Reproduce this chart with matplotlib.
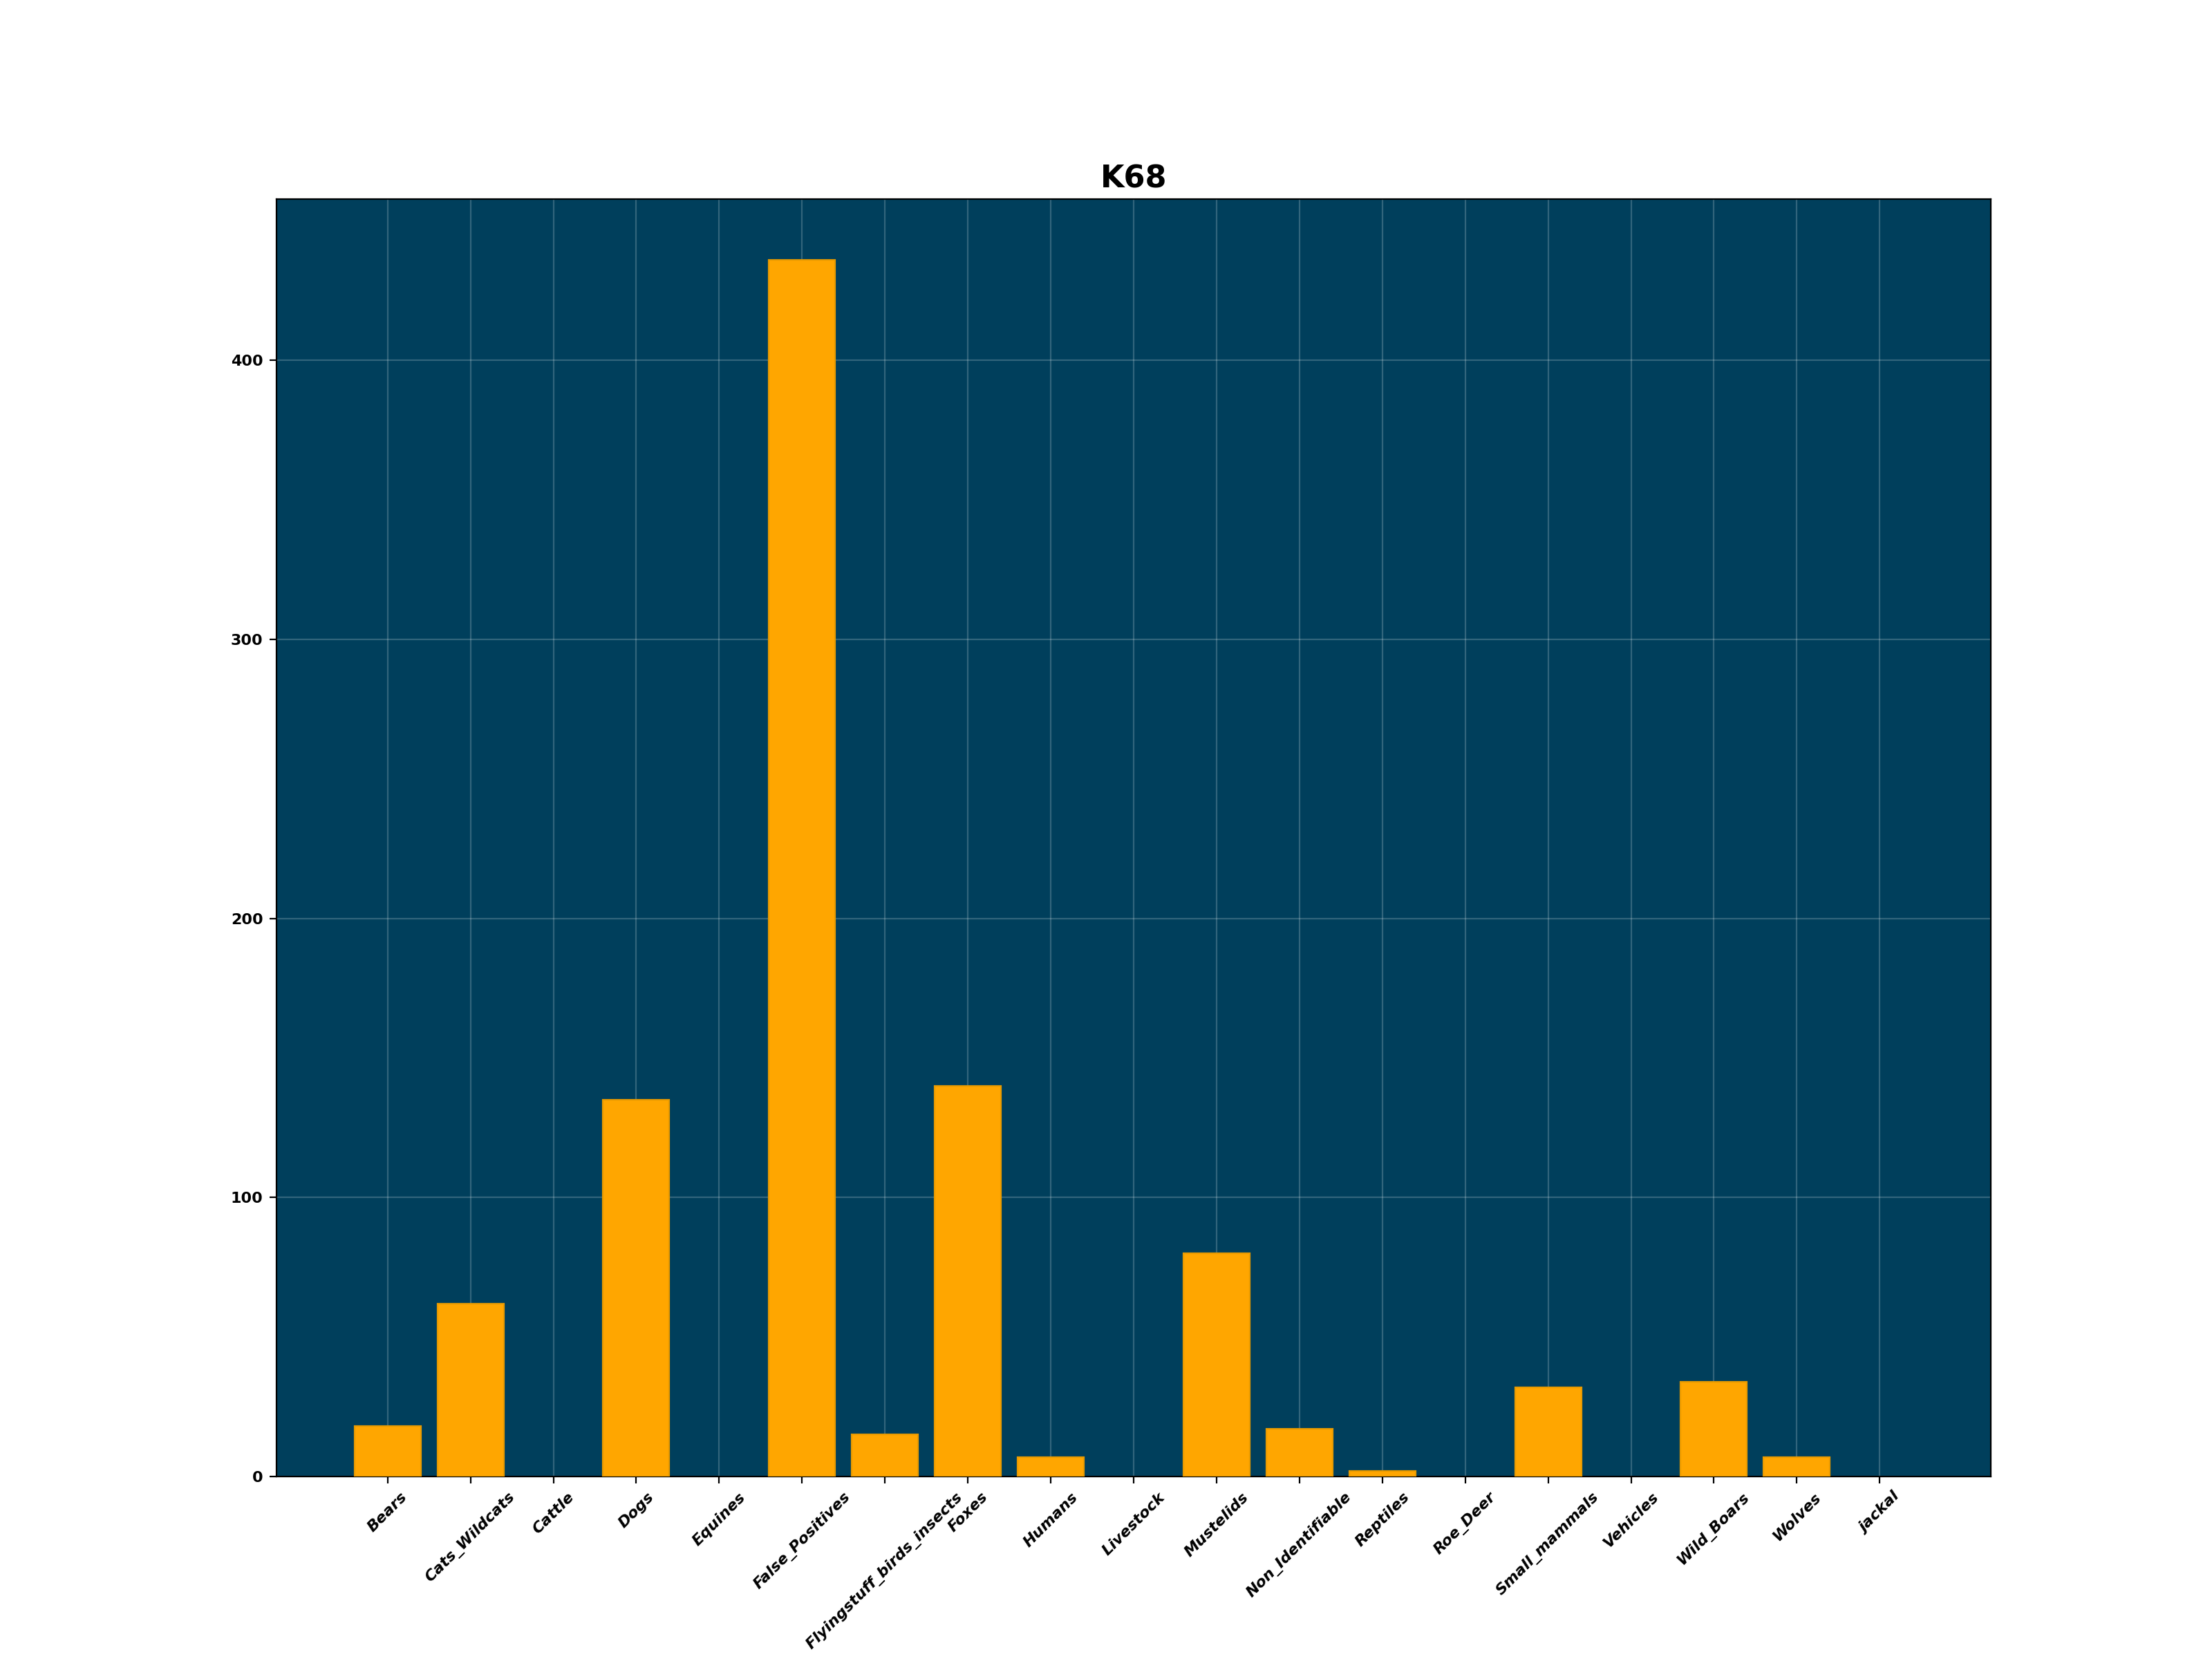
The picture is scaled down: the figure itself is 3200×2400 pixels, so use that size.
import matplotlib
matplotlib.use("Agg")
import matplotlib.pyplot as plt

categories = ["Bears", "Cats_Wildcats", "Cattle", "Dogs", "Equines", "False_Positives",
              "Flyingstuff_birds_insects", "Foxes", "Humans", "Livestock", "Mustelids",
              "Non_Identifiable", "Reptiles", "Roe_Deer", "Small_mammals", "Vehicles",
              "Wild_Boars", "Wolves", "jackal"]
counts = [18, 62, 0, 135, 0, 436, 15, 140, 7, 0, 80, 17, 2, 0, 32, 0, 34, 7, 0]
title = "K68"

fig, ax = plt.subplots(figsize=(16, 12), dpi=200)
ax.set_facecolor("#003f5c")
edge_widths = [0.8 if c > 0 else 0 for c in counts]
ax.bar(categories, counts, width=0.8, color="#ffa600", edgecolor="#e89a00",
       linewidth=edge_widths, zorder=3)
ax.grid(True, color="white", alpha=0.2, linewidth=0.8, zorder=0)
ax.set_axisbelow(True)
ax.set_title(title, fontsize=16, fontweight="bold")
plt.setp(ax.get_xticklabels(), rotation=45, fontsize=8, fontweight="bold", fontstyle="italic")
plt.setp(ax.get_yticklabels(), fontsize=8, fontweight="bold")
fig.savefig("out.png", dpi=200)
